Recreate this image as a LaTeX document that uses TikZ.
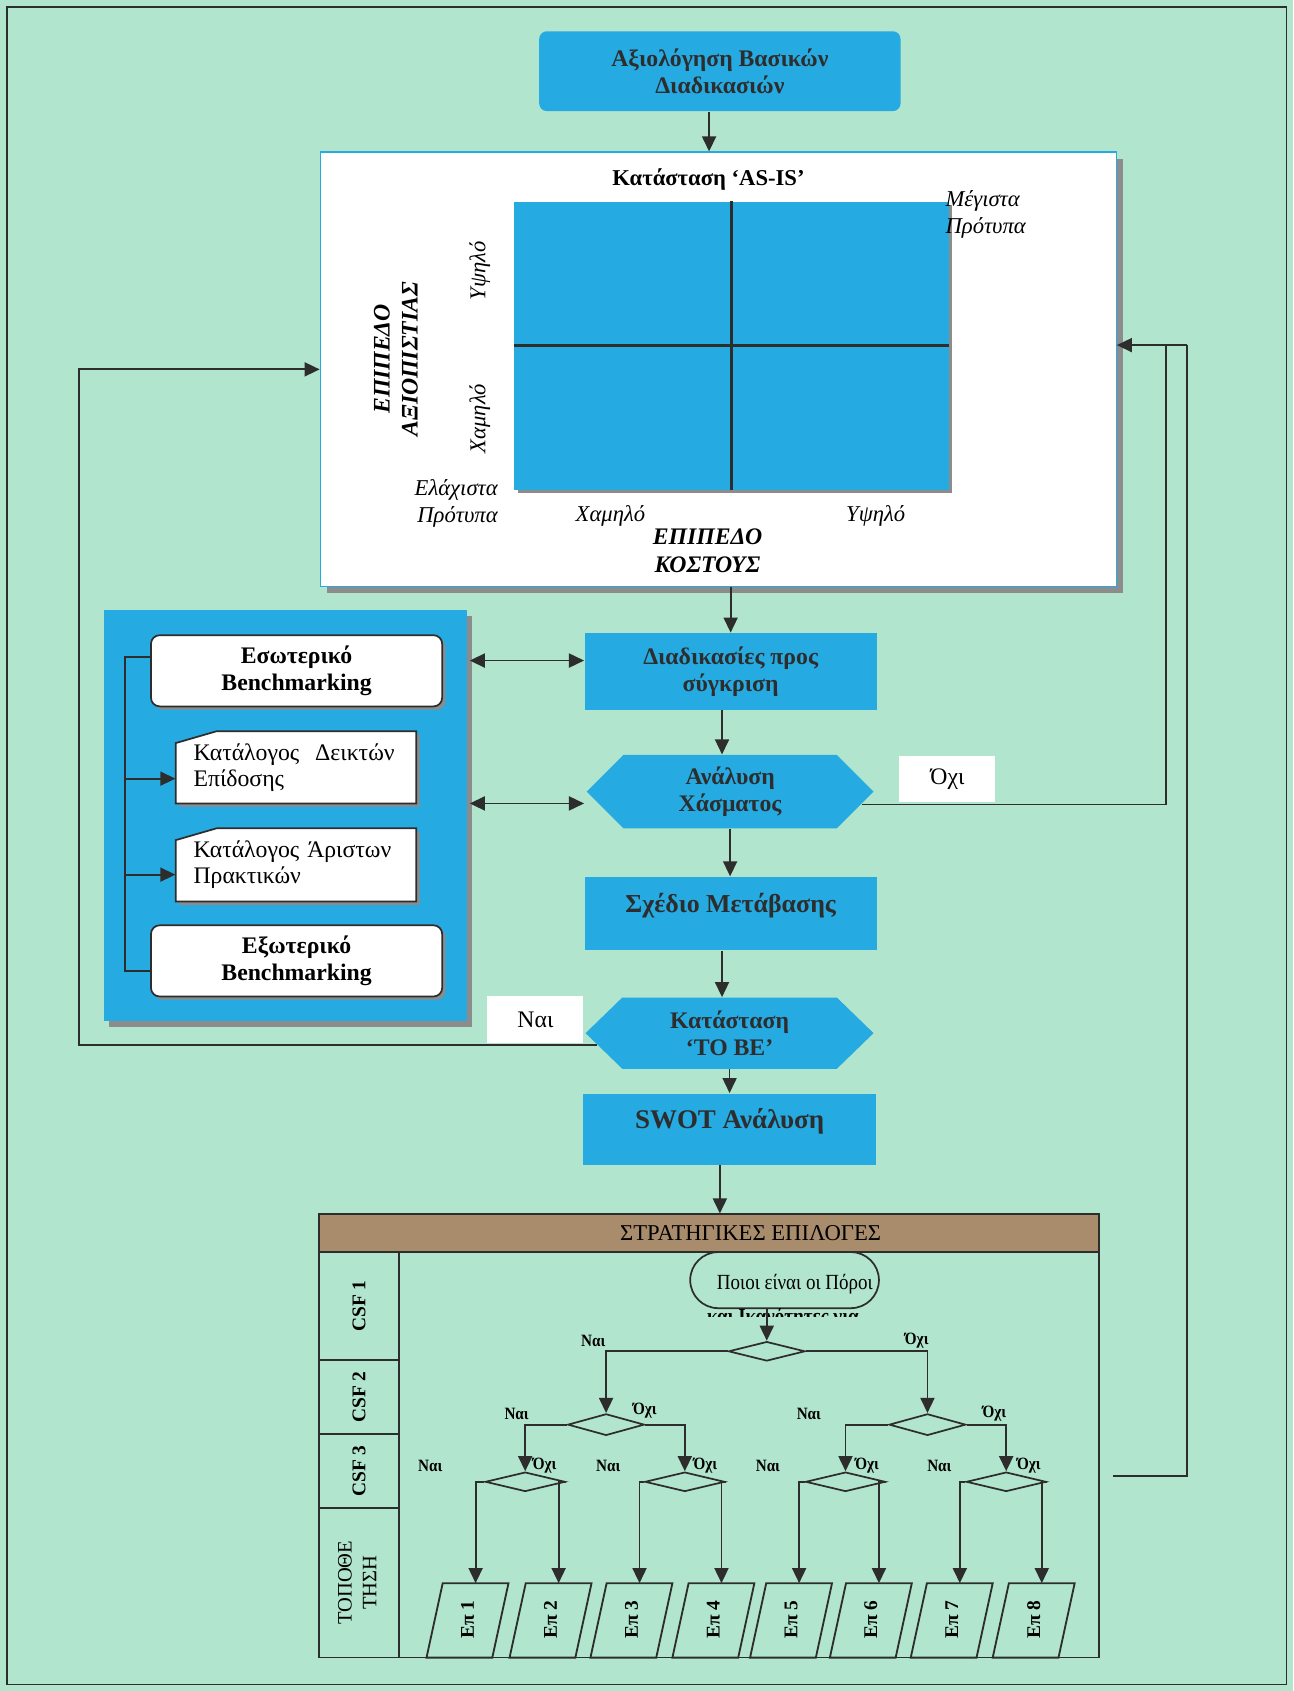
\documentclass[tikz,border=0pt]{standalone}
\usepackage{fontspec}
\setmainfont{Liberation Serif}
\newfontfamily\narrowserif[FakeStretch=0.88]{Liberation Serif}
\usetikzlibrary{arrows.meta,calc,shapes.geometric,shadows}

\definecolor{paper}{RGB}{177,229,205}
\definecolor{boxblue}{RGB}{38,170,226}
\definecolor{hdrbrown}{RGB}{168,140,108}
\definecolor{ink}{RGB}{45,45,45}
\definecolor{shade}{RGB}{140,140,140}

\tikzset{
  sz/.style 2 args={minimum width=#1*0.5pt, minimum height=#2*0.5pt},
  shad/.style={drop shadow={shadow xshift=#1, shadow yshift=-#1, fill=shade, opacity=1}},
  conn/.style={draw=ink, line width=0.85pt},
  arr/.style={conn, ->},
  darr/.style={conn, <->},
  bluebox/.style={fill=boxblue, inner sep=0pt, align=center, text=ink,
    font=\bfseries\fontsize{11}{12.5}\selectfont},
  whitebox/.style={fill=white, draw=ink, line width=0.8pt, rounded corners=4pt,
    inner sep=0pt, align=center, shad=1.5pt,
    font=\bfseries\fontsize{11}{12.5}\selectfont},
  cardtext/.style={inner sep=0pt, align=left, text width=95pt,
    font=\fontsize{11}{12}\selectfont},
  axislbl/.style={font=\itshape\fontsize{10.5}{12.5}\selectfont},
  axistitle/.style={align=center, font=\bfseries\itshape\fontsize{11}{13}\selectfont},
  answer/.style={fill=white, inner sep=0pt, font=\fontsize{11}{13}\selectfont},
  cell/.style={draw=ink, line width=0.8pt, inner sep=0pt},
  rowlbl/.style={font=\bfseries\fontsize{9}{10}\selectfont},
  dec/.style={diamond, draw=ink, line width=0.8pt, inner sep=0pt},
  treelbl/.style={inner sep=0pt, font=\narrowserif\bfseries\fontsize{8}{9}\selectfont},
  optlbl/.style={rotate=90, inner sep=0pt, font=\bfseries\fontsize{9}{10}\selectfont},
}

\begin{document}
\begin{tikzpicture}[x=0.5pt, y=-0.5pt, >={Triangle[length=7pt,width=6.5pt]}]

% page and frame
\fill[paper] (0,0) rectangle (1199,1568);
\useasboundingbox (0,0) rectangle (1199,1568);
\draw[ink, line width=0.7pt] (6.5,6.5) rectangle (1193,1562);

% start of the process
\node[bluebox, rounded corners=3.5pt, sz={335}{74},
      font=\bfseries\fontsize{11}{12.5}\selectfont] (top) at (667.5,66)
      {Αξιολόγηση Βασικών\\Διαδικασιών};

% AS-IS matrix
\node[fill=white, draw=boxblue, line width=0.6pt, sz={738}{403}, shad=3pt] (asis) at (666,342.5) {};
\node[font=\bfseries\fontsize{10.5}{12}\selectfont] (asistitle) at (657,166) {Κατάσταση ‘AS-IS’};
\node[fill=boxblue, sz={403}{267}, shad=1.5pt] (chart) at (678.5,320.5) {};
\draw[ink, line width=1.4pt] (chart.north) -- (chart.south);
\draw[ink, line width=1.4pt] (chart.west) -- (chart.east);
\node[axislbl, align=left] (maxstd) at (914,199) {Μέγιστα\\Πρότυπα};
\node[axislbl, align=right] (minstd) at (423,467) {Ελάχιστα\\Πρότυπα};
\node[axislbl, rotate=90] (yhigh) at (445,251) {Υψηλό};
\node[axislbl, rotate=90] (ylow) at (445,388) {Χαμηλό};
\node[axistitle, rotate=90] (yaxis) at (367,333) {ΕΠΙΠΕΔΟ\\ΑΞΙΟΠΙΣΤΙΑΣ};
\node[axislbl] (xlow) at (566,478) {Χαμηλό};
\node[axislbl] (xhigh) at (812,478) {Υψηλό};
\node[axistitle] (xaxis) at (656,511) {ΕΠΙΠΕΔΟ\\ΚΟΣΤΟΥΣ};

% benchmarking panel
\node[fill=boxblue, sz={337}{381}, shad=2.5pt] (panel) at (264.5,756.5) {};
\node[whitebox, sz={270}{66}] (intb) at (275,622) {Εσωτερικό\\Benchmarking};
\node[whitebox, sz={270}{66}] (extb) at (275,891) {Εξωτερικό\\Benchmarking};
\path[fill=white, draw=ink, line width=0.8pt, shad=1.5pt]
  (163,745) -- (163,689) -- (201,678) -- (386,678) -- (386,745) -- cycle;
\node[cardtext, sz={223}{67}] (kpi) at (274.5,711.5) {Κατάλογος\ \ Δεικτών\\Επίδοσης};
\path[fill=white, draw=ink, line width=0.8pt, shad=1.5pt]
  (163,836) -- (163,779) -- (201,768) -- (386,768) -- (386,836) -- cycle;
\node[cardtext, sz={223}{68}] (best) at (274.5,802) {Κατάλογος Άριστων\\Πρακτικών};

% bracket joining the benchmarking sources
\draw[conn] ($(intb.west)+(0,-13)$) -| ($(extb.west)+(-23,9)$) -- ($(extb.west)+(0,9)$);
\draw[arr] ($(kpi.west)+(-46,10.5)$) -- ($(kpi.west)+(0,10.5)$);
\draw[arr] ($(best.west)+(-46,9)$) -- ($(best.west)+(0,9)$);

% main column
\node[bluebox, sz={271}{71}] (proc) at (677.5,622.5) {Διαδικασίες προς\\σύγκριση};
\fill[boxblue] (544,734) -- (578,700) -- (776,700) -- (810,734) -- (776,768) -- (578,768) -- cycle;
\node[inner sep=0pt, align=center, text=ink, sz={266}{68},
      font=\bfseries\fontsize{11}{12.5}\selectfont] (gap) at (677,734) {Ανάλυση\\Χάσματος};
\node[answer, sz={89}{43}] (nolbl) at (878.5,722.5) {Όχι};
\node[fill=boxblue, sz={271}{68}] (plan) at (677.5,847) {};
\node[inner sep=0pt, text=ink, font=\bfseries\fontsize{12}{14}\selectfont] (plantxt) at (677.5,840) {Σχέδιο Μετάβασης};
\fill[boxblue] (543,958) -- (577,925) -- (776,925) -- (810,958) -- (776,991) -- (577,991) -- cycle;
\node[inner sep=0pt, align=center, text=ink, sz={267}{66},
      font=\bfseries\fontsize{11}{12.5}\selectfont] (tobe) at (676.5,958) {Κατάσταση\\‘TO BE’};
\node[answer, sz={89}{43}] (yeslbl) at (496.5,945.5) {Ναι};
\node[fill=boxblue, sz={271}{66}] (swot) at (676.5,1047) {};
\node[inner sep=0pt, text=ink, font=\bfseries\fontsize{12.5}{14}\selectfont] (swottxt) at (676.5,1040) {SWOT Ανάλυση};

% strategic options table
\node[cell, fill=hdrbrown, sz={723}{35}] (hdr) at (657.5,1143.5) {};
\node[inner sep=0pt, font=\fontsize{10.5}{12}\selectfont] (hdrtxt) at (696,1143.5) {ΣΤΡΑΤΗΓΙΚΕΣ ΕΠΙΛΟΓΕΣ};
\node[cell, sz={723}{376}] (tbl) at (657.5,1349) {};
\node[cell, sz={74}{100}, rowlbl] (csf1) at (333,1211) {\rotatebox{90}{CSF 1}};
\node[cell, sz={74}{69}, rowlbl] (csf2) at (333,1295.5) {\rotatebox{90}{CSF 2}};
\node[cell, sz={74}{68}, rowlbl] (csf3) at (333,1364) {\rotatebox{90}{CSF 3}};
\node[cell, sz={74}{139}, font=\fontsize{9.5}{11.5}\selectfont] (place) at (333,1467.5)
      {\rotatebox{90}{\begin{tabular}{@{}c@{}}ΤΟΠΟΘΕ\\ΤΗΣΗ\end{tabular}}};

% decision tree
\node[draw=ink, line width=0.8pt, rounded corners=13pt, sz={175}{52}] (term) at (727.5,1187) {};
\node[inner sep=0pt, font=\narrowserif\fontsize{10}{11}\selectfont] (termtxt) at (737,1191) {Ποιοι είναι οι Πόροι};
\begin{scope}
  \clip (640,1213) rectangle (815,1221);
  \node[anchor=base, inner sep=0pt, font=\narrowserif\bfseries\fontsize{10}{11}\selectfont] (termmore) at (726,1227) {και Ικανότητες για};
\end{scope}

\node[dec, sz={71}{18}] (d1) at (711,1253) {};
\node[dec, sz={71}{20}] (d2a) at (562,1321) {};
\node[dec, sz={71}{20}] (d2b) at (860,1321) {};
\node[dec, sz={74}{18}] (d3a) at (487,1374) {};
\node[dec, sz={74}{18}] (d3b) at (635,1374) {};
\node[dec, sz={74}{18}] (d3c) at (784,1374) {};
\node[dec, sz={74}{18}] (d3d) at (933,1374) {};

\node[treelbl] (y1) at (550,1243) {Ναι};
\node[treelbl] (n1) at (850,1243) {Όχι};
\node[treelbl] (y2a) at (479,1311) {Ναι};
\node[treelbl] (n2a) at (598,1308) {Όχι};
\node[treelbl] (y2b) at (750,1311) {Ναι};
\node[treelbl] (n2b) at (922,1311) {Όχι};
\node[treelbl] (y3a) at (399,1359) {Ναι};
\node[treelbl] (n3a) at (505,1359) {Όχι};
\node[treelbl] (y3b) at (564,1359) {Ναι};
\node[treelbl] (n3b) at (654,1359) {Όχι};
\node[treelbl] (y3c) at (712,1359) {Ναι};
\node[treelbl] (n3c) at (804,1359) {Όχι};
\node[treelbl] (y3d) at (871,1359) {Ναι};
\node[treelbl] (n3d) at (954,1359) {Όχι};

% positioning options
\foreach \i/\xt in {1/441,2/518,3/593,4/669,5/741,6/815,7/890,8/966} {
  \draw[conn] (\xt-30.5,1468) -- (\xt+30.5,1468) -- (\xt+15.5,1537) -- (\xt-45.5,1537) -- cycle;
  \coordinate (ep\i t) at (\xt,1468);
  \node[optlbl] (ep\i) at (\xt-7.5,1502) {Επ \i};
}

\draw[arr] (term.south -| d1.north) -- (d1.north);
\draw[arr] (d1.west) -| (d2a.north);
\draw[arr] (d1.east) -| (d2b.north);
\draw[arr] (d2a.west) -| (d3a.north);
\draw[arr] (d2a.east) -| (d3b.north);
\draw[arr] (d2b.west) -| (d3c.north);
\draw[arr] (d2b.east) -| (d3d.north);
\draw[arr] (d3a.west) -| (ep1t);
\draw[arr] (d3a.east) -| (ep2t);
\draw[arr] (d3b.west) -| (ep3t);
\draw[arr] (d3b.east) -| (ep4t);
\draw[arr] (d3c.west) -| (ep5t);
\draw[arr] (d3c.east) -| (ep6t);
\draw[arr] (d3d.west) -| (ep7t);
\draw[arr] (d3d.east) -| (ep8t);

% main flow
\coordinate (a1) at ($(top.south)+(-10,0)$);
\draw[arr] (a1) -- (a1 |- asis.north);
\draw[arr] (asis.south -| proc.north) -- (proc.north);
\coordinate (a3) at ($(proc.south)+(-8,0)$);
\draw[arr] (a3) -- (a3 |- gap.north);
\draw[arr] (gap.south) -- (gap.south |- plan.north);
\coordinate (a5) at ($(plan.south)+(-8,0)$);
\draw[arr] (a5) -- (a5 |- tobe.north);
\draw[arr] (tobe.south) -- (tobe.south |- swot.north);
\coordinate (a7) at ($(swot.south)+(-9,0)$);
\draw[arr] (a7) -- (a7 |- hdr.north);

% comparisons with the benchmarking panel
\draw[darr] ($(proc.west)+(-106,-10)$) -- ($(proc.west)+(0,-10)$);
\draw[darr] ($(gap.west)+(-108,11)$) -- ($(gap.west)+(-2,11)$);

% feedback loops
\coordinate (rj) at (1101,320);
\draw[arr] (rj) -- (rj -| asis.east);
\draw[conn] ([shift={(-11,12)}]gap.east) -| ($(rj)+(-20,0)$);
\coordinate (tbout) at (1032,1369);
\draw[conn] (tbout) -| (rj);
\draw[arr] ([shift={(11,11)}]tobe.west) -| ($(asis.west)+(-223,0)$) -- (asis.west);

\end{tikzpicture}
\end{document}
